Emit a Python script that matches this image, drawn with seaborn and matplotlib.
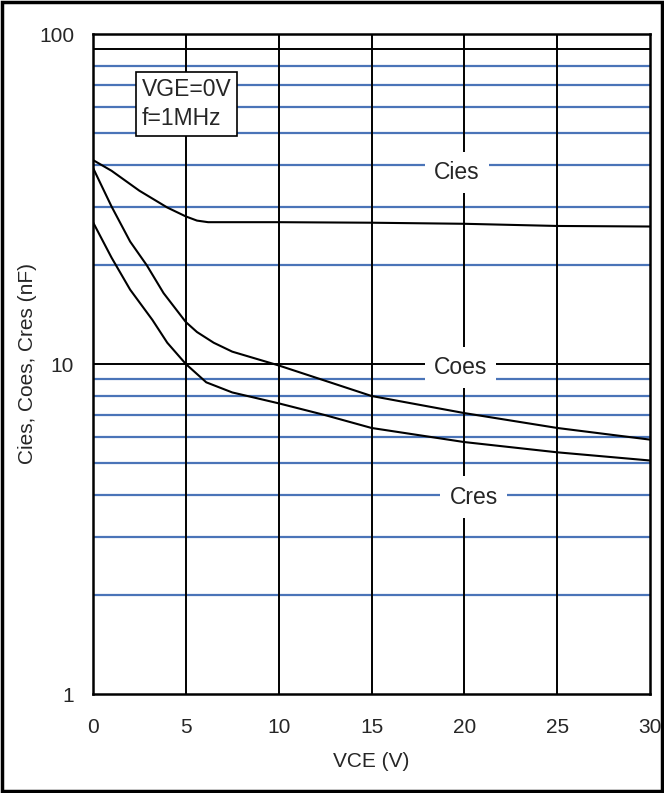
import numpy as np
import pandas as pd
import matplotlib
matplotlib.use('Agg')
import matplotlib.pyplot as plt
import seaborn as sns

sns.set_style('white')
plt.rcParams['font.family'] = ['Liberation Sans', 'DejaVu Sans']

# values (VCE in V, capacitance in nF)
vce_cies = [0, 1, 2.5, 4, 5, 5.6, 6.2, 8, 10, 15, 20, 25, 30]
cies = [41.5, 38.5, 33.5, 29.8, 28.0, 27.2, 26.9, 26.9, 26.9, 26.8, 26.6, 26.2, 26.1]

vce_coes = [0, 1, 2, 2.9, 3.8, 5, 5.6, 6.5, 7.5, 10, 12.5, 15, 20, 25, 30]
coes = [39.3, 30.0, 23.5, 19.9, 16.4, 13.4, 12.5, 11.6, 10.9, 9.9, 8.9, 8.0, 7.1, 6.4, 5.9]

vce_cres = [0, 1, 2, 3.2, 4, 5, 6.1, 7.5, 10, 12.5, 15, 20, 25, 30]
cres = [26.9, 21.0, 16.8, 13.6, 11.6, 10.0, 8.8, 8.2, 7.6, 7.0, 6.4, 5.8, 5.4, 5.1]

labels = ['Cies', 'Coes', 'Cres']
label_x = [19.6, 19.8, 20.5]
label_y = [38, 9.75, 3.95]

df = pd.concat([
    pd.DataFrame({'VCE': vce_cies, 'C': cies, 'curve': 'Cies'}),
    pd.DataFrame({'VCE': vce_coes, 'C': coes, 'curve': 'Coes'}),
    pd.DataFrame({'VCE': vce_cres, 'C': cres, 'curve': 'Cres'}),
])

fig = plt.figure(figsize=(6.64, 7.93), dpi=100)
ax = fig.add_axes([93 / 664, 1 - 694 / 793, (650 - 93) / 664, (694 - 34) / 793])

blue = '#4a74b8'
ax.set_yscale('log')
ax.set_xlim(0, 30)
ax.set_ylim(1, 100)

# grid lines
for v in [2, 3, 4, 5, 6, 7, 8, 9, 20, 30, 40, 50, 60, 70, 80]:
    ax.axhline(v, color=blue, lw=1.6, zorder=1)
for v in [10, 90]:
    ax.axhline(v, color='black', lw=1.4, zorder=1)
for v in [5, 10, 15, 20, 25]:
    ax.axvline(v, color='black', lw=1.4, zorder=1)

sns.lineplot(data=df, x='VCE', y='C', hue='curve', palette=['black'] * 3,
             lw=1.5, legend=False, sort=False, ax=ax, zorder=3)

for name, x, y in zip(labels, label_x, label_y):
    ax.text(x, y, name, ha='center', va='center', fontsize=16.5, zorder=4,
            bbox=dict(boxstyle='square,pad=0.4', fc='white', ec='none'))

ax.text(2.64, 61.5, 'VGE=0V\nf=1MHz', ha='left', va='center', fontsize=16.5,
        linespacing=1.35, zorder=4,
        bbox=dict(boxstyle='square,pad=0.25', fc='white', ec='black', lw=1.2))

ax.set_xticks([0, 5, 10, 15, 20, 25, 30])
ax.set_yticks([1, 10, 100])
ax.set_yticklabels(['1', '10', '100'])
ax.yaxis.set_minor_locator(matplotlib.ticker.NullLocator())
ax.tick_params(axis='both', which='major', direction='out', length=6.5,
               width=1.2, labelsize=15, color='black')
ax.tick_params(axis='x', pad=11)
ax.tick_params(axis='y', pad=7)

for s in ax.spines.values():
    s.set_color('black')
    s.set_linewidth(1.8)
    s.set_zorder(5)

ax.set_xlabel('VCE (V)', fontsize=15)
ax.set_ylabel('Cies, Coes, Cres (nF)', fontsize=15)
ax.xaxis.set_label_coords(0.5, -0.088)
ax.yaxis.set_label_coords(-0.1, 0.5)

fig.patches.append(plt.Rectangle((0.003, 0.003), 0.994, 0.994, transform=fig.transFigure,
                                 fill=False, ec='black', lw=2.5))

fig.savefig('out.png', dpi=100)
